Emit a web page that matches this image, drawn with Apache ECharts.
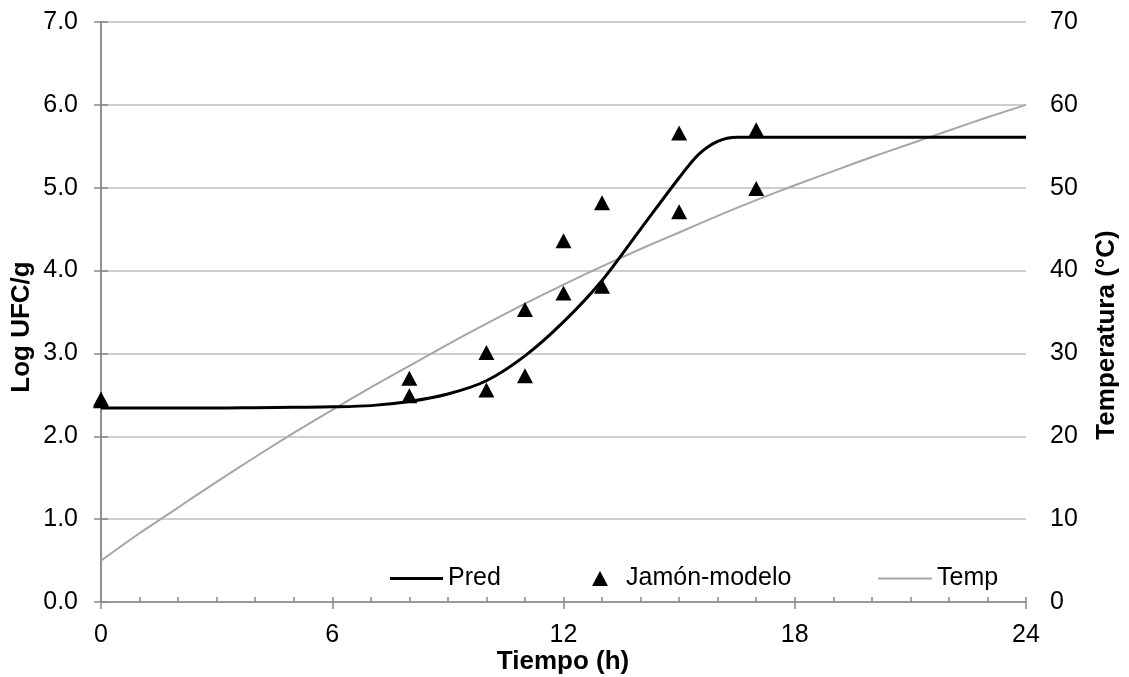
<!DOCTYPE html>
<html><head><meta charset="utf-8">
<script src="https://cdn.jsdelivr.net/npm/echarts@6/dist/echarts.min.js"></script>
<style>html,body{margin:0;padding:0;background:#fff}#c{width:1129px;height:677px}</style>
</head><body><div id="c"></div>
<script>
// Data
var predX = [0,1,2,3,4,5,6,7,8,9,10,11,12,13,14,15,15.5,16,16.5,17,18,19,20,21,22,23,24];
var predY = [2.34,2.34,2.34,2.34,2.345,2.35,2.355,2.37,2.42,2.51,2.67,2.97,3.38,3.88,4.50,5.12,5.40,5.56,5.61,5.61,5.61,5.61,5.61,5.61,5.61,5.61,5.61];
var obsX = [0,0,8,8,10,10,11,11,12,12,13,13,15,15,17,17];
var obsY = [2.45,2.43,2.70,2.49,3.01,2.56,3.53,2.73,4.36,3.73,4.82,3.81,5.66,4.71,5.70,4.99];
var tempX = [0,1,2,3,4,5,6,7,8,9,10,11,12,13,14,15,16,17,18,19,20,21,22,23,24];
var tempY = [5,8.3,11.4,14.5,17.5,20.4,23.2,25.9,28.5,31.1,33.6,36.0,38.3,40.5,42.6,44.6,46.6,48.5,50.3,52.0,53.7,55.3,56.9,58.5,60.0];
var xTickLabels = [0,6,12,18,24];
var leftTitle = 'Log UFC/g', rightTitle = 'Temperatura (°C)', xTitle = 'Tiempo (h)';

function zip(a,b){return a.map(function(v,i){return [v,b[i]];});}
var FONT = 'Liberation Sans, Arial, sans-serif';
var AX = '#898989';
var chart = echarts.init(document.getElementById('c'));
var txt = {fontFamily: FONT, fontSize: 25, color: '#000'};
chart.setOption({
  animation: false,
  backgroundColor: '#fff',
  grid: {left: 101, right: 103, top: 22, bottom: 75, containLabel: false},
  xAxis: [{
    type: 'value', min: 0, max: 24, interval: 1, position: 'bottom',
    axisLine: {show: true, lineStyle: {color: AX, width: 1.5}},
    axisTick: {show: true, inside: true, length: 5, lineStyle: {color: AX, width: 1.5}},
    axisLabel: Object.assign({margin: 21, formatter: function(v){return xTickLabels.indexOf(v) >= 0 ? String(v) : '';}}, txt),
    splitLine: {show: false}
  }, {
    type: 'value', min: 0, max: 24, interval: 6, position: 'bottom',
    axisLine: {show: false},
    axisTick: {show: true, inside: false, length: 7, lineStyle: {color: AX, width: 1.5}},
    axisLabel: {show: false},
    splitLine: {show: false}
  }],
  yAxis: [{
    type: 'value', min: 0, max: 7, interval: 1, position: 'left',
    axisLine: {show: true, lineStyle: {color: AX, width: 1.5}},
    axisTick: {show: true, length: 7, lineStyle: {color: AX, width: 1.5}},
    axisLabel: Object.assign({margin: 23, formatter: function(v){return v.toFixed(1);}}, txt),
    splitLine: {show: true, lineStyle: {color: '#BFBFBF', width: 1.5}}
  }, {
    type: 'value', min: 0, max: 70, interval: 10, position: 'right',
    axisLine: {show: true, lineStyle: {color: AX, width: 1.5}},
    axisTick: {show: true, length: 7, lineStyle: {color: AX, width: 1.5}},
    axisLabel: Object.assign({margin: 24}, txt),
    splitLine: {show: false}
  }],
  legend: [{
    data: [{name: 'Pred', icon: 'rect'}], left: 390, top: 566, padding: 0, itemWidth: 53, itemHeight: 3,
    textStyle: Object.assign({lineHeight: 24}, txt)
  }, {
    data: [{name: 'Jamón-modelo', icon: 'triangle'}], left: 592, top: 566, padding: 0, itemWidth: 16, itemHeight: 15,
    itemStyle: {opacity: 1},
    textStyle: Object.assign({lineHeight: 24, padding: [0,0,0,13]}, txt)
  }, {
    data: [{name: 'Temp', icon: 'rect'}], left: 878, top: 566, padding: 0, itemWidth: 54, itemHeight: 2,
    textStyle: Object.assign({lineHeight: 24}, txt)
  }],
  graphic: [
    {type: 'text', x: 22, y: 327, rotation: Math.PI/2,
     style: {text: leftTitle, font: 'bold 26px ' + FONT, fill: '#000', textAlign: 'center', textVerticalAlign: 'middle'}},
    {type: 'text', x: 1107, y: 335, rotation: Math.PI/2,
     style: {text: rightTitle, font: 'bold 26px ' + FONT, fill: '#000', textAlign: 'center', textVerticalAlign: 'middle'}},
    {type: 'text', x: 563, y: 662,
     style: {text: xTitle, font: 'bold 26px ' + FONT, fill: '#000', textAlign: 'center', textVerticalAlign: 'middle'}}
  ],
  series: [{
    name: 'Temp', type: 'line', xAxisIndex: 0, yAxisIndex: 1, data: zip(tempX, tempY),
    smooth: 0.3, symbol: 'none', lineStyle: {color: '#A6A6A6', width: 2}, itemStyle: {color: '#A6A6A6'}, z: 2
  }, {
    name: 'Pred', type: 'line', xAxisIndex: 0, yAxisIndex: 0, data: zip(predX, predY),
    smooth: 0.3, symbol: 'none', lineStyle: {color: '#000', width: 3}, itemStyle: {color: '#000'}, z: 3
  }, {
    name: 'Jamón-modelo', type: 'scatter', xAxisIndex: 0, yAxisIndex: 0, data: zip(obsX, obsY),
    symbol: 'triangle', symbolSize: [16, 15], itemStyle: {color: '#000', opacity: 1}, z: 4
  }]
});
</script></body></html>
